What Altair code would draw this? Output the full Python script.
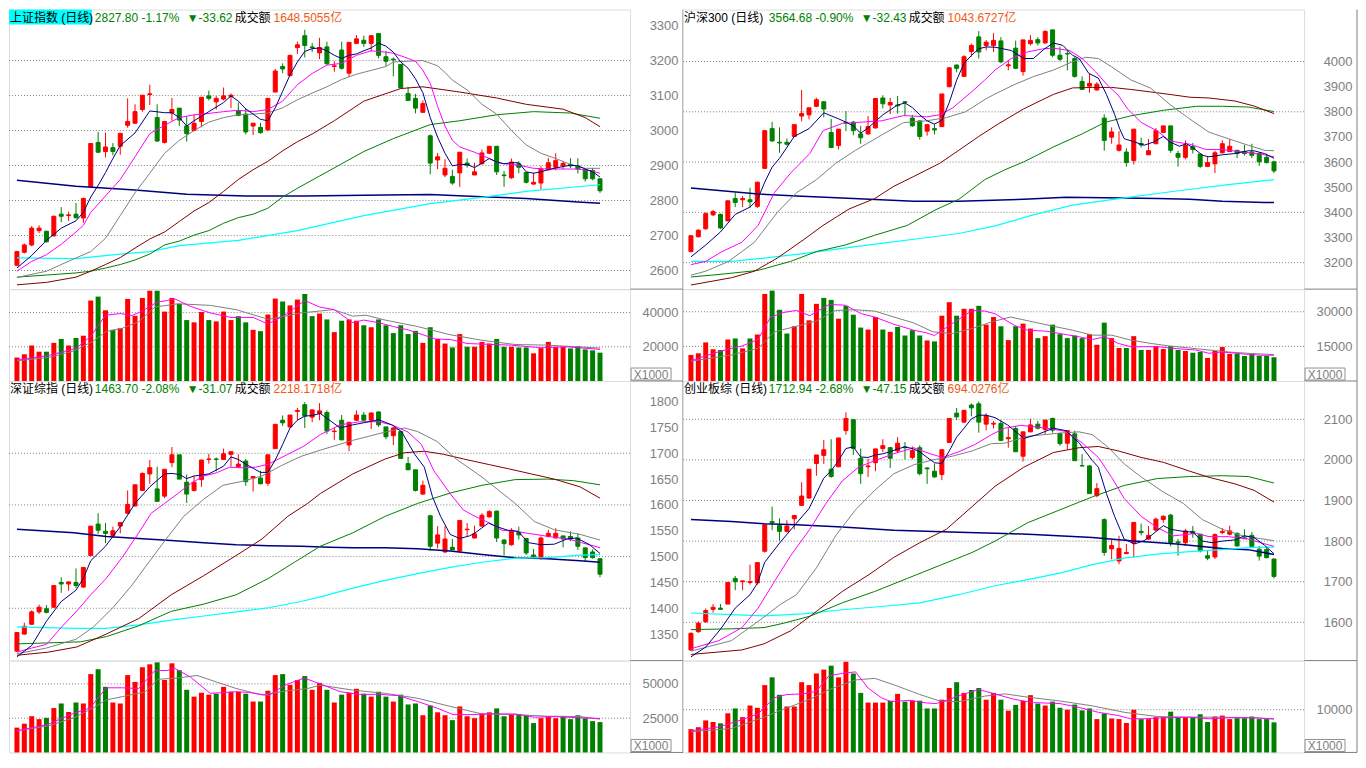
import altair as alt
import pandas as pd

# ---------------- 上证指数 (top-left) ----------------
SH_OPEN = [2615,2652,2673,2714,2712,2699,2761,2757,2761,2750, 2839,2966,2940,2951,2955,3015,3021,3060,3103,3037,
           2966,3050,3064,3013,3000,3026,3099,3082,3090,3097, 3056,3047,3013,3009,3002,3110,3183,3157,3237,3271,
           3239,3222,3239,3183,3230,3164,3249,3258,3249,3277, 3211,3204,3189,3106,3092,3052,2985,2916,2873,2869,
           2879,2907,2873,2905,2935,2955,2873,2865,2905,2880, 2847,2850,2888,2895,2900,2903,2899,2888,2886,2862]
SH_HIGH = [2656,2677,2727,2729,2714,2757,2781,2768,2793,2808, 2963,2996,2994,2964,2993,3092,3075,3101,3131,3075,
           3026,3093,3064,3041,3045,3095,3114,3099,3123,3106, 3080,3064,3021,3022,3092,3176,3192,3215,3254,3288,
           3250,3265,3254,3198,3254,3252,3273,3271,3273,3279, 3228,3209,3189,3125,3105,3086,2989,2936,2918,2888,
           2938,2920,2908,2946,2955,2955,2884,2920,2912,2880, 2879,2899,2922,2935,2912,2921,2921,2892,2893,2862]
SH_LOW = [2612,2649,2669,2707,2680,2697,2738,2742,2748,2736, 2839,2936,2923,2929,2931,3008,3019,3054,3073,2968,
          2963,3028,3013,2968,2998,3009,3086,3060,3086,3064, 3041,2989,2987,2991,2998,3110,3164,3155,3219,3209,
          3224,3204,3187,3168,3174,3153,3247,3239,3226,3206, 3185,3155,3122,3086,3049,3052,2875,2890,2867,2845,
          2839,2894,2873,2903,2933,2873,2839,2862,2878,2849, 2845,2832,2886,2886,2890,2893,2877,2854,2858,2822]
SH_CLOSE = [2654,2673,2721,2721,2682,2755,2755,2759,2751,2806, 2963,2938,2953,2940,2992,3026,3054,3101,3105,2970,
            3026,3060,3030,2991,3021,3095,3092,3092,3099,3101, 3043,2996,3021,2994,3092,3170,3176,3215,3245,3243,
            3237,3237,3191,3185,3178,3252,3262,3249,3271,3215, 3198,3202,3122,3086,3064,3077,2907,2925,2892,2850,
            2938,2901,2882,2936,2955,2882,2871,2910,2895,2852, 2852,2890,2908,2914,2906,2899,2890,2862,2862,2828]
SH_VOL = [13714,15619,20762,17143,17143,22286,24571,20762,25143,26476, 47048,49333,41333,29905,30857,48000,38095,48571,52762,52762,
          40571,48571,45143,35619,34286,40381,35619,34857,40571,35619, 37905,34286,29905,29143,38857,48190,46476,44190,47619,50857,
          37905,39429,36000,28571,35238,36000,35238,32571,31429,36000, 32571,28000,32571,27429,29333,22286,31429,24571,21905,19619,
          27429,20000,20000,22857,21905,24571,20000,20000,19619,19619, 16190,19238,22857,20000,20000,19048,20381,18476,17905,16571]
SH_MA5 = [(0,2607),(2,2643),(4,2686),(6,2721),(8,2742),(9,2766),(10,2810),(11,2843),(12,2880),(13,2920),(14,2957),(16,2993),(18,3056),
          (20,3051),(21,3051),(22,3037),(23,3013),(24,3028),(26,3054),(28,3080),(29,3099),(30,3084),(31,3062),(32,3047),(33,3032),
          (34,3028),(35,3065),(36,3112),(37,3159),(38,3196),(39,3226),(40,3234),(41,3236),(42,3228),(43,3215),(44,3206),(45,3215),
          (46,3219),(47,3228),(48,3236),(49,3250),(50,3241),(51,3224),(52,3196),(53,3178),(54,3148),(55,3108),(56,3037),(57,2981),
          (58,2935),(59,2899),(60,2903),(61,2903),(62,2894),(63,2907),(64,2920),(65,2910),(66,2905),(67,2908),(68,2908),(69,2882),
          (70,2878),(71,2882),(72,2888),(73,2893),(74,2897),(75,2901),(76,2899),(77,2890),(78,2882),(79,2867)]
SH_MA10 = [(0,2598),(2,2626),(4,2645),(6,2675),(8,2710),(9,2729),(10,2766),(12,2813),(14,2860),(16,2925),(18,2991),(20,3015),
           (22,3037),(24,3045),(26,3049),(28,3054),(30,3058),(32,3054),(34,3060),(36,3084),(38,3131),(40,3163),(42,3187),(44,3192),
           (46,3215),(48,3228),(50,3224),(51,3221),(53,3206),(54,3198),(55,3172),(56,3135),(57,3069),(58,3013),(59,2972),(60,2953),
           (62,2938),(64,2920),(65,2910),(66,2905),(68,2901),(70,2892),(72,2890),(74,2890),(76,2890),(78,2884),(79,2878)]
SH_MA20 = [(0,2580),(4,2598),(8,2636),(10,2654),(12,2692),(14,2757),(16,2822),(18,2878),(20,2935),(22,2972),(24,3000),(26,3024),
           (28,3037),(30,3045),(32,3047),(34,3050),(36,3065),(38,3088),(40,3107),(42,3125),(44,3146),(46,3161),(48,3172),(50,3183),
           (51,3196),(53,3198),(55,3200),(57,3185),(58,3166),(59,3144),(61,3116),(63,3075),(65,3047),(67,3000),(69,2959),(71,2935),
           (73,2920),(75,2903),(77,2892),(79,2892)]
SH_MA30 = [(0,2559),(4,2566),(8,2581),(10,2598),(12,2617),(14,2637),(16,2664),(18,2690),(20,2710),(22,2740),(24,2770),(26,2794),
           (28,2826),(30,2860),(32,2888),(34,2912),(36,2942),(38,2968),(40,2990),(43,3028),(47,3084),(52,3120),(55,3125),(60,3110),
           (65,3093),(69,3075),(74,3061),(77,3037),(79,3011)]
SH_MA60 = [(0,2581),(4,2587),(8,2593),(10,2598),(12,2607),(14,2617),(16,2630),(18,2647),(20,2673),(22,2684),(24,2701),(26,2714),
           (28,2735),(30,2751),(32,2761),(34,2778),(36,2810),(38,2835),(41,2870),(44,2905),(47,2940),(51,2977),(56,3017),(60,3028),
           (65,3045),(70,3054),(75,3050),(79,3035)]
SH_MA120 = [(0,2636),(8,2634),(14,2647),(18,2654),(22,2671),(30,2686),(38,2714),(47,2757),(56,2791),(63,2809),(69,2826),(79,2845)]
SH_MA250 = [(0,2858),(8,2841),(16,2830),(23,2818),(31,2813),(39,2813),(47,2815),(56,2817),(63,2811),(69,2806),(76,2796),(79,2792)]
SH_VMA5 = [(0,12381),(4,14667),(8,19048),(10,26095),(12,38476),(14,39429),(15.6,38286),(17,40952),(19,46095),(20.4,47048),
           (21.3,48190),(23.5,43619),(26.2,39810),(29,37143),(32,37143),(34,33333),(36.3,38476),(39,47048),(41,43238),(43,41714),
           (45.5,34095),(47,35619),(49,34095),(51,31810),(53,29905),(56.7,24571),(58.8,24190),(61,21905),(67,20952),(71,19429),
           (74.5,20000),(79,18476)]
SH_VMA10 = [(0,11810),(4.2,13714),(7.7,17524),(10.3,23238),(12.1,28952),(14.3,30857),(16.5,34667),(18.7,43238),(21.8,45143),
            (26.2,44190),(29.7,41714),(34.1,36000),(38.5,39810),(42.9,41714),(45.5,37905),(47.3,38476),(49.9,35619),(54.3,31810),
            (58.7,27048),(63,23810),(67.5,21333),(71.9,20952),(79,19238)]
SH_TICKS = [2600, 2700, 2800, 2900, 3000, 3100, 3200, 3300]
SH_GRID = [2600, 2700, 2800, 2900, 3000, 3100, 3200]
SH_VTICKS = [20000, 40000]
SH_HEADER = ["上证指数 (日线)", "2827.80 -1.17%", "▼-33.62", "成交额", "1648.5055亿"]

# ---------------- 沪深300 (top-right) ----------------
HS_OPEN = [3244,3303,3335,3390,3392,3366,3455,3450,3450,3424, 3575,3733,3679,3679,3702,3783,3788,3822,3840,3718,
           3666,3758,3759,3712,3712,3736,3855,3827,3827,3840, 3775,3764,3723,3733,3741,3900,3986,3941,4040,4098,
           4064,4064,4082,3983,4053,3960,4071,4087,4074,4126, 4025,4032,4012,3921,3902,3887,3775,3699,3647,3640,
           3606,3674,3629,3673,3718,3744,3634,3619,3661,3632, 3583,3593,3637,3642,3647,3642,3640,3634,3619,3601]
HS_HIGH = [3309,3333,3400,3410,3395,3447,3478,3465,3498,3522, 3725,3760,3738,3694,3750,3887,3816,3856,3842,3772,
           3731,3803,3764,3744,3783,3853,3866,3855,3863,3843, 3788,3764,3749,3752,3871,3978,3988,4025,4071,4121,
           4085,4113,4097,4005,4083,4086,4105,4097,4124,4126, 4059,4043,4017,3941,3952,3918,3790,3738,3723,3655,
           3731,3697,3692,3736,3744,3744,3645,3686,3676,3632, 3621,3645,3686,3692,3647,3668,3673,3640,3634,3606]
HS_LOW = [3241,3300,3330,3385,3334,3365,3421,3421,3418,3418, 3575,3681,3637,3666,3700,3762,3770,3819,3778,3655,
          3650,3723,3707,3673,3710,3733,3814,3791,3793,3785, 3741,3689,3705,3710,3740,3897,3957,3939,4019,4012,
          4045,4038,3993,3965,3970,3944,4064,4064,4071,4017, 4001,3965,3936,3889,3876,3884,3645,3673,3642,3582,
          3590,3658,3629,3671,3715,3637,3582,3611,3634,3577, 3580,3556,3634,3640,3616,3626,3616,3585,3595,3556]
HS_CLOSE = [3307,3329,3395,3403,3338,3446,3439,3455,3442,3520, 3725,3684,3676,3671,3749,3793,3816,3848,3811,3658,
            3731,3756,3725,3697,3741,3853,3832,3837,3824,3837, 3744,3702,3749,3728,3871,3975,3973,4019,4064,4038,
            4077,4084,3999,3987,3973,4086,4084,4074,4120,4025, 4009,4030,3941,3889,3913,3910,3686,3720,3668,3598,
            3731,3668,3645,3725,3744,3647,3619,3666,3650,3583, 3598,3637,3673,3663,3634,3634,3627,3601,3598,3565]
HS_VOL = [11286,12000,16714,13714,13429,18000,18429,14143,18429,20143, 37714,39143,30857,20571,23714,37714,26286,33429,36000,35143,
          27000,32571,28714,23143,22286,27714,22286,21286,23429,19714, 22000,19714,17571,17143,28286,34143,28286,31286,31286,32571,
          24429,27714,23714,17714,23714,24857,22714,18571,19429,24429, 20286,18571,19714,18571,20286,15714,25286,18571,14286,14286,
          19429,13429,13429,15143,13857,15143,13429,13000,12286,12571, 10000,13000,14714,11714,11714,10857,11714,10857,10857,10286]
HS_MA5 = [(0,3223),(2,3270),(4,3322),(6,3392),(8,3421),(9,3450),(10,3520),(11,3580),(12,3615),(14,3702),(16,3733),(18,3796),
          (20,3772),(21,3759),(22,3744),(23,3715),(24,3736),(26,3788),(28,3827),(29,3835),(30,3817),(31,3788),(32,3764),(33,3751),
          (34,3767),(35,3837),(36,3926),(37,3993),(38,4024),(39,4051),(40,4058),(41.2,4057),(43.4,4044),(45.1,4012),(46.4,4012),
          (47.8,4048),(49.1,4074),(50.4,4064),(51.7,4025),(52.6,4012),(53.9,3953),(55.2,3934),(56.3,3869),(57.4,3790),(58.1,3732),
          (58.7,3693),(60.1,3680),(61.4,3667),(62.7,3680),(64,3702),(64.9,3680),(66.2,3663),(67.1,3673),(68,3658),(69.3,3627),
          (70.2,3621),(72,3629),(73.7,3634),(75.5,3645),(76.3,3645),(77.7,3634),(79,3615)]
HS_MA10 = [(0,3192),(2,3205),(4.2,3244),(6.9,3281),(9.1,3348),(11.3,3478),(13.5,3556),(16.1,3634),(17.9,3725),(20.5,3754),
           (23.1,3759),(25.8,3764),(28.8,3785),(30.2,3783),(31.9,3780),(33.7,3788),(35.4,3814),(38.1,3881),(39.8,3926),(41.2,3966),
           (43.4,4012),(45.6,4038),(47.8,4051),(49.1,4053),(51.3,4044),(53,4012),(54.8,3960),(56.6,3901),(57.9,3866),(59.2,3810),
           (61,3758),(63.2,3723),(64.9,3684),(67.6,3671),(69.8,3650),(72,3650),(74.8,3640),(77.2,3632),(79,3621)]
HS_MA20 = [(0,3150),(2,3166),(5.1,3205),(8.6,3281),(11.7,3400),(14.3,3478),(17,3530),(19.6,3595),(22.3,3647),(25.8,3707),
           (28.8,3757),(31.9,3764),(34.6,3777),(37.2,3800),(40,3852),(41.2,3871),(43.8,3908),(46.4,3940),(49.1,3966),(51.7,3999),
           (53.5,4017),(55.2,4012),(57,3979),(59.6,3927),(62.3,3894),(64.9,3829),(67.6,3771),(70.2,3719),(72.8,3693),(75.5,3667),
           (77.7,3647),(79,3645)]
HS_MA30 = [(0,3111),(5.5,3140),(8.6,3166),(11.7,3218),(15.2,3290),(17.9,3348),(21.4,3413),(24.9,3455),(27.5,3504),(30.2,3543),
           (33.7,3595),(36.3,3647),(39,3702),(41.6,3751),(45.1,3812),(49.1,3869),(51.7,3895),(54.4,3897),(57,3897),(59.6,3889),
           (62.3,3879),(64.9,3869),(67.6,3858),(70.2,3855),(73.7,3843),(76.3,3823),(79,3793)]
HS_MA60 = [(0,3143),(3.8,3153),(9.1,3169),(13.5,3205),(17,3244),(20.9,3270),(24.9,3309),(29.3,3348),(33.2,3411),(36.3,3452),
           (39.8,3530),(42.5,3569),(45.1,3601),(49.1,3660),(53,3712),(56.1,3758),(59.6,3784),(64,3806),(68.5,3822),(72,3822),
           (75.5,3819),(79,3801)]
HS_MA120 = [(0,3205),(5.5,3205),(9.9,3218),(15.2,3236),(20.5,3257),(25.8,3277),(31,3296),(36.3,3316),(41.2,3346),(46.4,3390),
            (51.7,3429),(58.7,3458),(65.8,3485),(72.8,3510),(79,3530)]
HS_MA250 = [(0,3497),(9.1,3473),(14.3,3465),(20.5,3457),(30.2,3444),(36.3,3444),(45.1,3452),(50.8,3460),(58.7,3457),(63.2,3455),
            (67.6,3452),(72,3444),(77.7,3439),(79,3439)]
HS_VMA5 = [(0,8857),(3.8,12714),(5.5,14143),(6.9,15143),(9.1,18000),(10.8,27714),(12.6,29714),(14.3,30571),(16.1,28286),
           (18.7,33143),(20.9,32857),(23.1,29143),(24.9,27714),(27.5,24571),(30.2,22000),(31.9,20857),(33,19714),(35.4,24857),
           (38.1,30571),(39.8,30286),(41.2,29143),(43.8,24143),(45.6,22000),(48.2,21571),(50,20571),(52.6,19143),(54.4,18000),
           (56.1,19143),(57.9,16286),(59.6,14857),(61.4,14857),(63.2,14857),(65.8,14000),(68.4,13429),(70.2,12000),(72,12571),
           (74.8,11714),(77.2,11143),(79,11143)]
HS_VMA10 = [(0,8571),(5.5,11286),(9.1,14143),(11.3,21286),(14.3,23714),(17,26000),(19.6,30571),(22.3,30857),(24.9,30286),
            (27.5,27714),(30.2,25143),(32.8,21286),(35.4,20571),(38.1,22714),(40.7,25571),(43.3,27714),(46.4,25571),(49.1,23714),
            (51.7,22000),(54.4,19857),(57,19857),(59.6,17714),(62.3,16286),(64.9,15143),(67.6,14286),(70.2,13429),(72.8,12571),
            (75.5,12000),(79,11429)]
HS_TICKS = [3200, 3300, 3400, 3500, 3600, 3700, 3800, 3900, 4000]
HS_GRID = [3200, 3400, 3600, 3800, 4000]
HS_VTICKS = [15000, 30000]
HS_HEADER = ["沪深300 (日线)", "3564.68 -0.90%", "▼-32.43", "成交额", "1043.6727亿"]

# ---------------- 深证综指 (bottom-left) ----------------
SZ_OPEN = [1317,1350,1369,1393,1399,1402,1450,1447,1450,1441, 1502,1563,1549,1541,1559,1584,1598,1628,1660,1631,
           1617,1682,1697,1644,1628,1649,1688,1689,1688,1698, 1674,1685,1652,1652,1642,1709,1764,1751,1781,1794,
           1770,1777,1779,1742,1764,1716,1764,1774,1764,1780, 1751,1734,1742,1680,1668,1621,1579,1526,1509,1518,
           1511,1552,1536,1559,1577,1588,1532,1523,1547,1535, 1503,1498,1539,1536,1540,1539,1536,1517,1509,1496]
SZ_HIGH = [1353,1372,1396,1407,1406,1444,1460,1452,1477,1479, 1559,1584,1565,1558,1566,1628,1639,1663,1687,1674,
           1669,1712,1697,1659,1656,1687,1699,1692,1709,1703, 1698,1689,1655,1666,1697,1756,1773,1774,1788,1799,
           1784,1797,1783,1749,1774,1760,1783,1780,1779,1781, 1751,1751,1742,1693,1668,1647,1581,1559,1559,1534,
           1570,1565,1560,1584,1590,1589,1534,1555,1558,1535, 1515,1539,1552,1555,1540,1549,1545,1517,1514,1496]
SZ_LOW = [1315,1349,1368,1389,1390,1401,1430,1434,1439,1439, 1502,1544,1526,1536,1545,1582,1597,1627,1641,1606,
          1613,1673,1650,1604,1626,1635,1680,1665,1687,1674, 1671,1637,1626,1640,1637,1709,1753,1749,1764,1749,
          1760,1764,1737,1726,1725,1704,1763,1763,1747,1751, 1727,1716,1690,1668,1626,1620,1511,1516,1507,1513,
          1508,1540,1535,1558,1575,1528,1502,1521,1533,1503, 1497,1494,1537,1535,1518,1530,1513,1490,1496,1460]
SZ_CLOSE = [1353,1365,1393,1402,1392,1444,1447,1451,1444,1479, 1559,1551,1545,1550,1566,1601,1639,1661,1672,1607,
            1669,1697,1650,1621,1644,1687,1689,1688,1699,1703, 1679,1645,1655,1641,1697,1756,1759,1774,1783,1772,
            1784,1782,1743,1743,1726,1760,1774,1764,1778,1755, 1732,1749,1690,1668,1628,1638,1520,1542,1534,1513,
            1570,1553,1544,1580,1587,1536,1525,1551,1542,1507, 1500,1536,1545,1545,1534,1534,1520,1498,1498,1466]
SZ_VOL = [18095,20952,26429,24286,25238,32381,35714,29524,36429,35714, 57143,60714,47857,36429,35714,56429,51429,62143,64286,65714,
          52857,65000,60000,45714,40714,43571,42143,42857,47857,44286, 44286,42857,37143,37143,45000,56429,57143,49286,52857,55714,
          45714,50714,45714,36429,42143,43571,46429,42857,40714,44286, 40714,37143,42143,35000,35714,27143,34286,29286,27143,23571,
          33571,26429,25000,28571,29286,32143,26429,27857,27857,27143, 21429,25000,26429,25000,26429,24286,27143,25000,22857,22143]
SZ_MA5 = [(0,1306),(2,1328),(4,1375),(6,1413),(8,1435),(9,1458),(10,1492),(12,1520),(14,1558),(16,1603),(18,1635),(20,1660),
          (21,1661),(22,1659),(23,1651),(24,1656),(26,1660),(28,1675),(29,1693),(30,1688),(31,1679),(32,1671),(33,1663),(34,1663),
          (35,1687),(36,1717),(37,1749),(38,1764),(39,1772),(40,1773),(41.1,1777),(43.8,1749),(45.5,1755),(47.7,1761),(49,1765),
          (50.8,1755),(52.1,1742),(53.9,1698),(55.2,1673),(56.3,1616),(57.4,1578),(58.7,1543),(60,1535),(61.3,1540),(62,1545),
          (63.9,1565),(65,1558),(66.5,1551),(67.9,1549),(69.3,1527),(71,1523),(72.8,1524),(74.5,1534),(75.8,1536),(77.6,1523),
          (79,1506)]
SZ_MA10 = [(0,1315),(2,1323),(4,1330),(6,1363),(8,1393),(10,1426),(12.1,1458),(14.3,1499),(16.5,1546),(18.2,1584),(20,1603),
           (21.8,1622),(23.5,1641),(25.3,1656),(27,1662),(28.8,1673),(30.6,1672),(32.3,1673),(34.1,1679),(36.7,1698),(38.9,1714),
           (41.1,1736),(43.8,1755),(46.4,1761),(49,1761),(50.8,1755),(53,1741),(54.8,1717),(56.5,1666),(58.7,1622),(60.5,1590),
           (62.2,1577),(63.9,1566),(65.7,1551),(67.5,1549),(69.3,1545),(72,1539),(74.7,1534),(76.5,1527),(78.3,1520),(79,1517)]
SZ_MA20 = [(0,1312),(4,1323),(8,1340),(10.3,1363),(13,1401),(15.6,1445),(17.4,1480),(20,1530),(22.6,1578),(25.3,1611),
           (27.9,1638),(30.6,1646),(33.2,1656),(35.8,1676),(38.5,1694),(41.1,1706),(45.5,1725),(49.9,1741),(52.5,1749),(54.3,1742),
           (56.9,1723),(59.5,1689),(63,1654),(67.5,1603),(70.1,1568),(72.8,1552),(76.3,1543),(79,1532)]
SZ_MA30 = [(0,1309),(4.2,1315),(8.1,1325),(12.1,1350),(16.5,1380),(20.9,1426),(25.3,1463),(29.7,1502),(33.2,1534),(36.7,1578),
           (39.4,1603),(41.1,1622),(45.5,1660),(49.9,1689),(52.5,1701),(55.2,1704),(57.8,1698),(60.5,1689),(64,1678),(66.6,1670),
           (69.7,1660),(72.8,1650),(76.3,1635),(79,1613)]
SZ_MA60 = [(0,1331),(8.6,1335),(12.1,1345),(16.5,1366),(20.9,1394),(25.3,1408),(29.7,1426),(34.1,1458),(37.6,1489),(41.1,1520),
           (45.5,1546),(49.9,1578),(54.3,1603),(58.7,1623),(63,1638),(67.5,1649),(71.9,1650),(75.4,1647),(79,1639)]
SZ_MA120 = [(0,1364),(8,1361),(12.1,1361),(16.5,1368),(20.9,1377),(25.3,1385),(29.7,1393),(34.1,1401),(38.5,1413),(41.1,1422),
            (45.5,1439),(49.9,1454),(54.3,1467),(58.7,1479),(63,1489),(67.5,1497),(71.9,1498),(76.3,1503),(79,1504)]
SZ_MA250 = [(0,1553),(7.7,1546),(12.1,1539),(16.5,1535),(20.9,1531),(25.3,1527),(29.7,1523),(34.1,1521),(38.5,1520),(42.4,1518),
            (45.5,1517),(49.9,1517),(54.3,1515),(58.7,1511),(63,1504),(67.5,1498),(71.9,1496),(76.3,1492),(79,1489)]
SZ_VMA5 = [(0,15714),(4.2,20476),(7.7,28571),(9.9,32381),(12.1,47143),(14.3,47143),(16.5,46667),(18.7,59762),(20.4,59762),
           (21.3,61667),(23.5,55000),(26.2,43095),(29.7,44286),(31.4,43810),(34.1,41429),(36.3,49048),(38.9,54286),(41.1,50000),
           (43.8,44286),(46.4,42381),(49,42381),(51.7,41429),(54.3,37143),(56.9,32381),(59.1,27619),(61.4,27619),(64,28095),
           (67.5,28095),(70.1,25714),(72.8,26190),(76.3,25238),(79,24762)]
SZ_VMA10 = [(0,15714),(4.2,19286),(7.7,25238),(10.3,32381),(12.1,38333),(14.3,40714),(17.4,44286),(19.1,53333),(21.8,54286),
            (24.4,56190),(27,51429),(29.7,46667),(33.2,41905),(36.3,44762),(39.4,46667),(41.1,49048),(45.5,45476),(49.9,43095),
            (54.3,39524),(58.7,33571),(63,28095),(67.5,27619),(71.9,26429),(76.3,26190),(79,24286)]
SZ_TICKS = [1350, 1400, 1450, 1500, 1550, 1600, 1650, 1700, 1750, 1800]
SZ_GRID = [1400, 1500, 1600, 1700]
SZ_VTICKS = [25000, 50000]
SZ_HEADER = ["深证综指 (日线)", "1463.70 -2.08%", "▼-31.07", "成交额", "2218.1718亿"]

# ---------------- 创业板综 (bottom-right) ----------------
CY_OPEN = [1532,1577,1602,1632,1635,1645,1708,1700,1698,1697, 1775,1848,1838,1824,1855,1888,1906,1991,2011,1977,
           1983,2072,2099,2004,1983,1993,2028,2030,2022,2032, 2006,2030,1980,1972,1964,2043,2115,2093,2135,2138,
           2088,2088,2090,2052,2077,2009,2069,2088,2075,2102, 2065,2041,2064,1986,1985,1912,1853,1781,1751,1769,
           1795,1824,1805,1827,1853,1864,1798,1796,1824,1817, 1764,1761,1821,1817,1819,1808,1814,1780,1779,1756]
CY_HIGH = [1575,1602,1634,1645,1645,1698,1714,1703,1742,1747, 1840,1885,1856,1851,1863,1945,1977,2012,2049,2051,
           2054,2117,2099,2028,2003,2027,2051,2032,2056,2044, 2033,2036,1982,1991,2025,2102,2128,2122,2139,2144,
           2115,2096,2098,2078,2083,2069,2101,2096,2098,2104, 2067,2073,2072,2014,1987,1943,1856,1805,1813,1793,
           1846,1843,1837,1858,1864,1867,1805,1830,1837,1817, 1776,1819,1832,1838,1822,1829,1822,1788,1784,1756]
CY_LOW = [1530,1574,1598,1624,1632,1645,1679,1679,1693,1693, 1772,1827,1801,1821,1829,1887,1904,1961,1990,1956,
          1982,2062,2012,1941,1958,1972,2019,1980,2017,2001, 2001,1962,1941,1956,1950,2043,2098,2091,2107,2067,
          2073,2077,2046,2030,2020,1996,2069,2075,2064,2067, 2035,2025,1998,1983,1916,1908,1764,1755,1743,1769,
          1759,1814,1803,1826,1845,1787,1764,1788,1808,1772, 1753,1756,1817,1814,1787,1805,1784,1752,1758,1708]
CY_CLOSE = [1573,1598,1629,1637,1632,1698,1700,1702,1700,1747, 1840,1845,1824,1837,1863,1911,1977,2012,2025,1959,
            2054,2102,2028,1966,1985,2027,2035,2004,2041,2030, 2023,1966,1978,1958,2025,2102,2106,2122,2128,2093,
            2109,2090,2048,2055,2020,2069,2086,2078,2098,2073, 2040,2072,1998,1985,1917,1929,1772,1789,1782,1772,
            1846,1821,1814,1854,1861,1796,1796,1825,1819,1776, 1758,1816,1824,1825,1788,1806,1787,1763,1759,1713]
CY_VOL = [5455,5909,7500,7121,6818,9167,10303,8258,10985,10455, 15758,17576,13485,10758,10758,16439,15758,18485,19394,20303,
          17576,21212,18485,13939,11667,11667,11667,12121,13712,11894, 12121,12121,10303,10303,12348,15076,16439,13939,14621,15076,
          12348,13939,12348,9773,11136,12045,13409,11439,10985,11894, 10455,10000,11212,9848,10303,7803,9167,7955,7803,6894,
          10000,7803,7803,8258,8258,9545,8106,8258,8258,8939, 7121,8409,8636,7803,8030,8030,8409,7803,7803,7045]
CY_MA5 = [(0,1515),(2,1539),(4,1583),(6,1635),(8,1668),(9,1696),(10,1748),(12,1795),(14,1838),(16,1880),(18,1955),(19,1973),
          (20,1998),(21,2028),(22,2032),(23,2007),(24,2006),(25,2012),(26,2015),(27,2020),(28,2027),(29,2032),(30,2028),(31,2020),
          (32,2006),(33,1993),(34,1991),(35,2022),(36,2056),(37,2078),(38,2101),(39,2110),(40,2110),(41.2,2104),(42.9,2086),
          (45.1,2053),(46.9,2062),(49.1,2078),(50.8,2072),(52.6,2042),(54.4,1998),(55.2,1982),(56.3,1917),(57.4,1861),(58.7,1805),
          (60.1,1793),(61.4,1801),(62.3,1813),(64,1838),(65,1829),(66.7,1824),(68,1822),(69.3,1800),(70.6,1796),(72,1800),
          (73.7,1803),(75,1813),(76.3,1809),(77.7,1790),(79,1769)]
CY_MA10 = [(0,1535),(3.8,1555),(6.9,1587),(9.1,1635),(11.3,1700),(13.5,1764),(16.1,1829),(18.3,1893),(20.5,1948),(22.7,1982),
           (24.9,1998),(27.5,2015),(30.2,2030),(32.4,2015),(34.1,2006),(36.3,2020),(38.5,2038),(40.7,2062),(42.5,2078),(44.7,2085),
           (48.2,2078),(50.8,2070),(53,2042),(55.2,2006),(57,1957),(58.7,1905),(61,1861),(63.2,1833),(65.4,1813),(68.5,1819),
           (70.2,1811),(72.8,1811),(75.5,1805),(77.2,1796),(79,1787)]
CY_MA20 = [(0,1529),(5.5,1555),(9.9,1613),(12.1,1644),(14.3,1668),(17,1734),(19.6,1813),(22.3,1877),(24.9,1925),(27.5,1966),
           (30.2,1988),(32.8,2000),(35.4,2009),(38.1,2022),(40.7,2040),(42.5,2041),(45.6,2058),(50,2066),(52.6,2069),(54.4,2062),
           (56.6,2030),(58.7,1990),(61,1958),(64,1921),(66.7,1893),(69.3,1853),(72,1829),(74.8,1813),(77.2,1806),(79,1801)]
CY_MA30 = [(0,1521),(3.8,1527),(6.9,1532),(9.9,1547),(13.5,1579),(17,1627),(20.5,1676),(24,1716),(27.5,1760),(31,1796),
           (34.6,1829),(38.1,1885),(41.2,1935),(45.1,1982),(49.1,2018),(52.6,2030),(55.2,2033),(57.9,2022),(61,2006),(64,1994),
           (67.6,1972),(70.2,1957),(73.7,1941),(76.3,1925),(79,1896)]
CY_MA60 = [(0,1582),(5.5,1584),(9.9,1587),(12.6,1598),(16.1,1615),(20.5,1648),(24.9,1676),(29.3,1708),(33.7,1740),(38.1,1772),
           (41.2,1800),(45.6,1845),(50,1877),(54.4,1909),(58.7,1937),(63.2,1954),(67.6,1959),(72,1961),(75.5,1959),(79,1943)]
CY_MA120 = [(0,1623),(5.5,1619),(9.9,1616),(15.2,1621),(20.5,1631),(25.8,1639),(31,1648),(36.3,1668),(41.2,1690),(45.6,1705),
            (50,1721),(54.4,1742),(58.7,1758),(63.2,1768),(67.6,1774),(72,1779),(75.5,1784),(79,1785)]
CY_MA250 = [(0,1853),(5.5,1848),(9.9,1843),(14.3,1840),(20.5,1835),(27.5,1827),(36.3,1822),(42.5,1819),(46.4,1816),(54.4,1809),
            (59.6,1801),(65.8,1793),(72,1782),(75.5,1779),(79,1767)]
CY_VMA5 = [(0,5076),(3.8,5985),(6.9,7652),(9.1,9015),(11.3,12803),(13,13561),(15.2,13712),(17,14318),(18.7,17955),(20.5,18485),
           (22.3,18864),(24,15076),(25.8,12803),(27.1,11894),(29.7,12197),(31.9,11591),(33.2,11439),(35,12424),(36.8,13561),
           (39,14697),(40.7,13939),(43.8,12424),(46.4,11667),(50,11439),(52.6,10530),(55.2,9394),(57.9,8636),(59.6,7879),
           (61.4,7879),(64,8106),(67.6,8258),(70.2,7879),(72.8,8106),(76.3,8106),(79,7879)]
CY_VMA10 = [(0,4848),(5.5,5606),(9.9,8258),(12.6,10152),(16.1,12424),(18.7,14697),(22.3,16970),(24.9,17348),(27.5,15833),
            (31,13561),(33.7,12045),(36.3,11894),(39.8,13182),(42.5,13712),(45.6,12955),(50,12045),(54.4,10909),(58.7,9394),
            (63.2,8409),(67.6,8258),(72,8258),(76.3,8106),(79,7803)]
CY_TICKS = [1600, 1700, 1800, 1900, 2000, 2100]
CY_GRID = [1600, 1700, 1800, 1900, 2000, 2100]
CY_VTICKS = [10000]
CY_HEADER = ["创业板综 (日线)", "1712.94 -2.68%", "▼-47.15", "成交额", "694.0276亿"]

for arr in (SH_OPEN, SH_HIGH, SH_LOW, SH_CLOSE, SH_VOL, HS_OPEN, HS_HIGH, HS_LOW, HS_CLOSE, HS_VOL,
            SZ_OPEN, SZ_HIGH, SZ_LOW, SZ_CLOSE, SZ_VOL, CY_OPEN, CY_HIGH, CY_LOW, CY_CLOSE, CY_VOL):
    assert len(arr) == 80, len(arr)

# ---------------- styling / layout ----------------
W, HP, HV, AXW = 622, 280, 92, 53
FONT = "Liberation Sans, Noto Sans CJK SC, DejaVu Sans, sans-serif"
RED, GRN = "#ff0000", "#008000"
GRID_C = "#808080"
BORDER = "#808080"
XSC = alt.Scale(domain=[-0.4, 82.4], nice=False, zero=False)
ONE = pd.DataFrame({"k": [0]})
MA_STYLE = {"MA5": ("#000080", 1.0), "MA10": ("#ff00ff", 1.0), "MA20": ("#808080", 1.0),
            "MA30": ("#800000", 1.0), "MA60": ("#008000", 1.0), "MA120": ("#00ffff", 1.2),
            "MA250": ("#00007a", 1.5)}
DIRCOL = alt.Color("d:N", scale=alt.Scale(domain=["up", "dn"], range=[RED, GRN]), legend=None)
DIRSTROKE = alt.Stroke("d:N", scale=alt.Scale(domain=["up", "dn"], range=[RED, GRN]), legend=None)


def yaxis(vals):
    return alt.Axis(orient="right", values=vals, format="d", grid=False, domain=False, ticks=False, tickSize=0,
                    labelAlign="right", labelBaseline="middle", labelPadding=48, labelColor="#808080",
                    labelFont=FONT, labelFontSize=13, title=None, labelOverlap=False, labelBound=False,
                    labelFlush=False, minExtent=AXW, maxExtent=AXW)


def xenc():
    return alt.X("i:Q", scale=XSC, axis=None)


def text_layer(x, y, txt, color, size, align="left"):
    return alt.Chart(ONE).mark_text(align=align, baseline="middle", font=FONT, fontSize=size, color=color).encode(
        x=alt.value(x), y=alt.value(y), text=alt.value(txt))


def frame_layers(h):
    return [
        alt.Chart(ONE).mark_rule(color=BORDER, strokeWidth=1).encode(x=alt.value(W), x2=alt.value(W + AXW), y=alt.value(h)),
        alt.Chart(ONE).mark_rule(color=BORDER, strokeWidth=1).encode(x=alt.value(W + AXW), y=alt.value(0), y2=alt.value(h)),
    ]


def ohlc_df(o, h, l, c, v):
    df = pd.DataFrame({"i": list(range(len(o))), "o": o, "h": h, "l": l, "c": c, "v": v})
    df["d"] = ["up" if cc >= oo else "dn" for oo, cc in zip(o, c)]
    return df


def price_panel(df, mas, domain, ticks, grid, header, active):
    ysc = alt.Scale(domain=domain, nice=False, zero=False)
    ax = yaxis(ticks)
    layers = [
        alt.Chart(pd.DataFrame({"g": grid})).mark_rule(color=GRID_C, strokeDash=[1, 2], strokeWidth=1).encode(
            y=alt.Y("g:Q", scale=ysc, axis=ax), x=alt.value(0), x2=alt.value(W)),
        alt.Chart(df).mark_rule(strokeWidth=1).encode(
            x=xenc(), y=alt.Y("l:Q", scale=ysc, axis=ax), y2="h:Q", color=DIRCOL),
        alt.Chart(df).mark_bar(size=4, strokeWidth=1).encode(
            x=xenc(), y=alt.Y("o:Q", scale=ysc, axis=ax), y2="c:Q", color=DIRCOL, stroke=DIRSTROKE),
    ]
    for name, pairs in mas:
        col, sw = MA_STYLE[name]
        layers.append(alt.Chart(pd.DataFrame(pairs, columns=["i", "v"])).mark_line(color=col, strokeWidth=sw).encode(
            x=xenc(), y=alt.Y("v:Q", scale=ysc, axis=ax)))
    title, nums, chg, lab, amt = header
    if active:
        layers.append(alt.Chart(ONE).mark_rect(color="#00ffff").encode(
            x=alt.value(0), x2=alt.value(83), y=alt.value(0), y2=alt.value(15)))
    layers += [
        text_layer(1, 8, title, "#000000", 12),
        text_layer(86, 8, nums, GRN, 12),
        text_layer(178, 8, chg, GRN, 12),
        text_layer(226, 8, lab, "#000000", 12),
        text_layer(265, 8, amt, "#ee5a14", 12),
    ]
    layers += frame_layers(HP)
    return alt.layer(*layers).properties(width=W, height=HP)


def vol_panel(df, vma5, vma10, vmax, ticks):
    ysc = alt.Scale(domain=[0, vmax], nice=False, zero=True)
    ax = yaxis(ticks)
    layers = [
        alt.Chart(pd.DataFrame({"g": ticks})).mark_rule(color=GRID_C, strokeDash=[1, 2], strokeWidth=1).encode(
            y=alt.Y("g:Q", scale=ysc, axis=ax), x=alt.value(0), x2=alt.value(W)),
        alt.Chart(df).mark_bar(size=5).encode(
            x=xenc(), y=alt.Y("v:Q", scale=ysc, axis=ax), y2=alt.datum(0), color=DIRCOL),
        alt.Chart(pd.DataFrame(vma10, columns=["i", "v"])).mark_line(color="#808080", strokeWidth=1).encode(
            x=xenc(), y=alt.Y("v:Q", scale=ysc, axis=ax)),
        alt.Chart(pd.DataFrame(vma5, columns=["i", "v"])).mark_line(color="#ff00ff", strokeWidth=1).encode(
            x=xenc(), y=alt.Y("v:Q", scale=ysc, axis=ax)),
        alt.Chart(ONE).mark_rect(fill="#ffffff", stroke="#909090", strokeWidth=1).encode(
            x=alt.value(W + 1), x2=alt.value(W + 41), y=alt.value(HV - 13), y2=alt.value(HV - 1)),
        text_layer(W + 21, HV - 6.5, "X1000", "#808080", 12, align="center"),
    ]
    layers += frame_layers(HV)
    return alt.layer(*layers).properties(width=W, height=HV)


def mas_of(p):
    return [("MA250", p[6]), ("MA120", p[5]), ("MA60", p[4]), ("MA30", p[3]),
            ("MA20", p[2]), ("MA10", p[1]), ("MA5", p[0])]


sh = ohlc_df(SH_OPEN, SH_HIGH, SH_LOW, SH_CLOSE, SH_VOL)
hs = ohlc_df(HS_OPEN, HS_HIGH, HS_LOW, HS_CLOSE, HS_VOL)
sz = ohlc_df(SZ_OPEN, SZ_HIGH, SZ_LOW, SZ_CLOSE, SZ_VOL)
cy = ohlc_df(CY_OPEN, CY_HIGH, CY_LOW, CY_CLOSE, CY_VOL)

tl_p = price_panel(sh, mas_of([SH_MA5, SH_MA10, SH_MA20, SH_MA30, SH_MA60, SH_MA120, SH_MA250]),
                   [2546.7, 3345.8], SH_TICKS, SH_GRID, SH_HEADER, True)
tr_p = price_panel(hs, mas_of([HS_MA5, HS_MA10, HS_MA20, HS_MA30, HS_MA60, HS_MA120, HS_MA250]),
                   [3094.6, 4206.8], HS_TICKS, HS_GRID, HS_HEADER, False)
bl_p = price_panel(sz, mas_of([SZ_MA5, SZ_MA10, SZ_MA20, SZ_MA30, SZ_MA60, SZ_MA120, SZ_MA250]),
                   [1298.7, 1839.9], SZ_TICKS, SZ_GRID, SZ_HEADER, False)
br_p = price_panel(cy, mas_of([CY_MA5, CY_MA10, CY_MA20, CY_MA30, CY_MA60, CY_MA120, CY_MA250]),
                   [1505.8, 2194.2], CY_TICKS, CY_GRID, CY_HEADER, False)

tl_v = vol_panel(sh, SH_VMA5, SH_VMA10, 53700, SH_VTICKS)
tr_v = vol_panel(hs, HS_VMA5, HS_VMA10, 39800, HS_VTICKS)
bl_v = vol_panel(sz, SZ_VMA5, SZ_VMA10, 67000, SZ_VTICKS)
br_v = vol_panel(cy, CY_VMA5, CY_VMA10, 21500, CY_VTICKS)

chart = alt.concat(tl_p, tr_p, tl_v, tr_v, bl_p, br_p, bl_v, br_v, columns=2,
                   spacing={"row": 0, "column": AXW}, bounds="flush").configure_view(
    stroke=BORDER, strokeWidth=1).configure(background="white", padding={"left": 0, "top": 0, "right": 0, "bottom": 0})

chart.save("out.html", embed_options={"renderer": "svg", "actions": False})
